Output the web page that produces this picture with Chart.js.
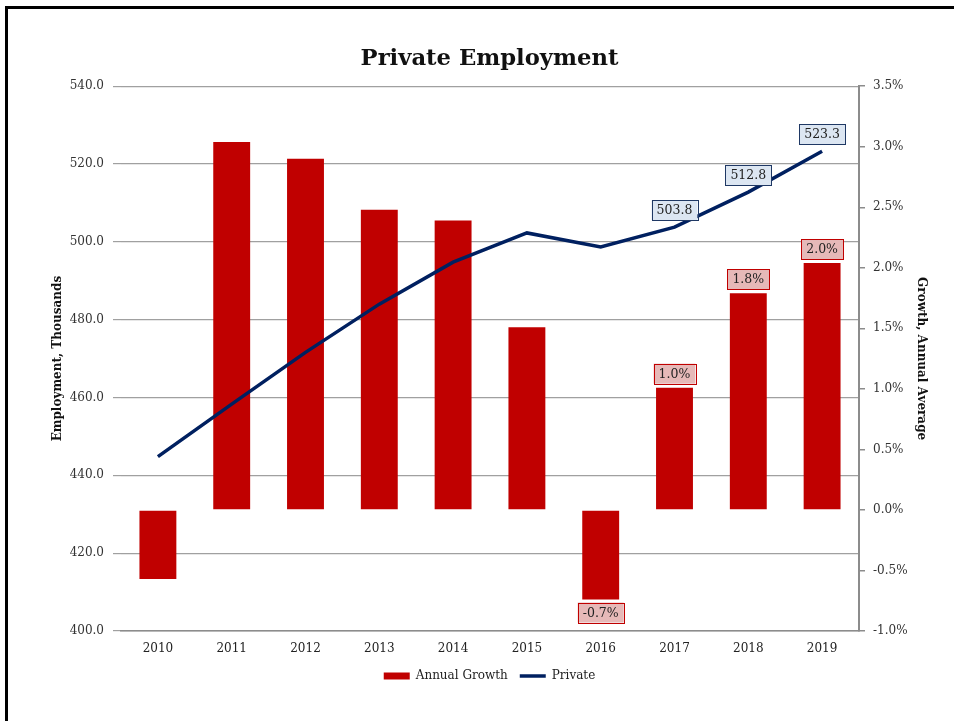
<!DOCTYPE html>
<html>
<head>
<meta charset="utf-8">
<script src="https://cdn.jsdelivr.net/npm/chart.js@4/dist/chart.umd.min.js"></script>
<style>
  html, body { margin: 0; padding: 0; background: white; overflow: hidden; }
  .frame { position: absolute; left: 5px; top: 6px; width: 1000px; height: 800px;
    border: 3px solid #000; box-sizing: border-box; }
  .chart-box { position: absolute; left: 0; top: 0; width: 954px; height: 721px; }
</style>
</head>
<body>
<div class="frame"></div>
<div class="chart-box"><canvas id="c"></canvas></div>
<script>
// Private Employment: annual growth bars (right axis) + employment line (left axis)
const years = ['2010', '2011', '2012', '2013', '2014', '2015', '2016', '2017', '2018', '2019'];
const privateEmp = [444.8, 458.3, 471.6, 484.0, 494.8, 502.3, 498.7, 503.8, 512.8, 523.3];
const annualGrowth = [-0.57, 3.04, 2.90, 2.48, 2.39, 1.51, -0.74, 1.01, 1.79, 2.04];
// only the last few points carry a value label
const lineLabelIdx = [7, 8, 9];
const barLabelIdx = [6, 7, 8, 9];

const FONT = '"DejaVu Serif", "Liberation Serif", serif';

function drawBox(ctx, text, cx, cy, bg, border) {
    ctx.font = '12.5px ' + FONT;
    const w = ctx.measureText(text).width + 10;
    const h = 20;
    ctx.fillStyle = bg;
    ctx.fillRect(cx - w / 2, cy - h / 2, w, h);
    ctx.strokeStyle = border;
    ctx.lineWidth = 1;
    ctx.strokeRect(Math.round(cx - w / 2) + 0.5, Math.round(cy - h / 2) + 0.5, Math.round(w), h);
    ctx.fillStyle = '#222';
    ctx.textAlign = 'center';
    ctx.textBaseline = 'middle';
    ctx.fillText(text, cx, cy + 1);
}

const labelPlugin = {
    id: 'valueLabels',
    afterDatasetsDraw: function (chart) {
        const ctx = chart.ctx;
        ctx.save();
        const bars = chart.getDatasetMeta(0).data;
        barLabelIdx.forEach(function (i) {
            const b = bars[i];
            const v = annualGrowth[i];
            const cy = v >= 0 ? b.y - 14 : b.y + 13;
            drawBox(ctx, v.toFixed(1) + '%', b.x, cy, '#e6b9b8', '#c00000');
        });
        const pts = chart.getDatasetMeta(1).data;
        lineLabelIdx.forEach(function (i) {
            const p = pts[i];
            drawBox(ctx, privateEmp[i].toFixed(1), p.x, p.y - 17, '#dce6f2', '#1f3864');
        });
        ctx.restore();
    }
};

Chart.defaults.font.family = FONT;
Chart.defaults.color = '#333';

new Chart(document.getElementById('c'), {
    data: {
        labels: years,
        datasets: [
            {
                type: 'bar',
                label: 'Annual Growth',
                data: annualGrowth,
                yAxisID: 'y1',
                backgroundColor: '#c00000',
                borderWidth: 0,
                pointStyle: 'rect',
                categoryPercentage: 1,
                barPercentage: 0.5,
                order: 1
            },
            {
                type: 'line',
                label: 'Private',
                data: privateEmp,
                yAxisID: 'y',
                borderColor: '#002060',
                backgroundColor: '#002060',
                borderWidth: 3.5,
                pointRadius: 0,
                pointStyle: 'line',
                tension: 0,
                order: 0
            }
        ]
    },
    options: {
        responsive: true,
        maintainAspectRatio: false,
        animation: false,
        layout: { padding: { left: 47, right: 22, top: 30, bottom: 29 } },
        scales: {
            x: {
                grid: { display: false, drawTicks: false },
                border: { display: true, color: '#8c8c8c', width: 1.5 },
                ticks: { padding: 11, font: { size: 12 }, color: '#222' },
                afterFit: function (scale) { scale.height = 27; }
            },
            y: {
                position: 'left',
                min: 400, max: 540,
                ticks: {
                    stepSize: 20, padding: 9, font: { size: 12 }, color: '#333',
                    callback: function (v) { return v.toFixed(1); }
                },
                grid: { color: '#a0a0a0', lineWidth: 1.2, tickLength: 8 },
                border: { display: false },
                title: { display: true, text: 'Employment, Thousands',
                    font: { size: 12, weight: 'bold' }, color: '#111', padding: 4 },
                afterFit: function (scale) { scale.width = 74; }
            },
            y1: {
                position: 'right',
                min: -1, max: 3.5,
                ticks: {
                    stepSize: 0.5, padding: 8, font: { size: 12 }, color: '#333',
                    callback: function (v) { return v.toFixed(1) + '%'; }
                },
                grid: { drawOnChartArea: false, color: '#8c8c8c', tickLength: 6, lineWidth: 1.5 },
                border: { display: true, color: '#8c8c8c', width: 2 },
                title: { display: true, text: 'Growth, Annual Average',
                    font: { size: 12, weight: 'bold' }, color: '#111', padding: 4 },
                afterFit: function (scale) { scale.width = 73; }
            }
        },
        plugins: {
            title: {
                display: true,
                text: 'Private Employment',
                font: { size: 22.7, weight: 'bold' },
                color: '#111',
                padding: { top: 15, bottom: 14 }
            },
            legend: {
                position: 'bottom',
                labels: {
                    usePointStyle: true, pointStyleWidth: 26, boxHeight: 7, padding: 12,
                    font: { size: 12 }, color: '#222',
                    sort: function (a, b) { return a.datasetIndex - b.datasetIndex; }
                }
            },
            tooltip: { enabled: false }
        }
    },
    plugins: [labelPlugin]
});
</script>
</body>
</html>
